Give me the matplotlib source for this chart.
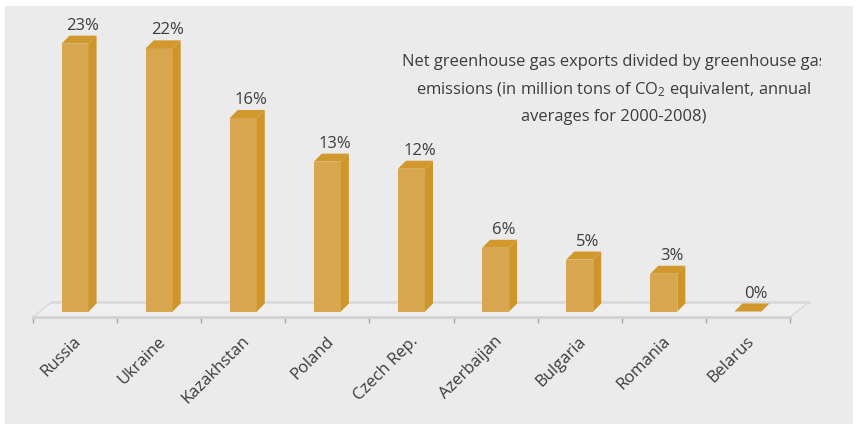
"""
Net greenhouse gas exports / emissions — pseudo-3D column chart.
Output: out.png (856x425)
"""
import numpy as np
import matplotlib
matplotlib.use("Agg")
import matplotlib.pyplot as plt
from matplotlib.patches import Polygon, Rectangle
from matplotlib.transforms import Bbox, TransformedBbox

plt.rcParams["font.family"] = ["Open Sans", "DejaVu Sans"]
plt.rcParams["mathtext.fontset"] = "custom"
plt.rcParams["mathtext.rm"] = "Open Sans"
plt.rcParams["mathtext.it"] = "Open Sans"

# ---- data ----
countries = ["Russia", "Ukraine", "Kazakhstan", "Poland", "Czech Rep.",
             "Azerbaijan", "Bulgaria", "Romania", "Belarus"]
share = [22.7, 22.3, 16.4, 12.7, 12.1, 5.4, 4.4, 3.2, 0.0]
share_labels = ["23%", "22%", "16%", "13%", "12%", "6%", "5%", "3%", "0%"]
title_lines = ["Net greenhouse gas exports divided by greenhouse gas",
               "emissions (in million tons of CO$_2$ equivalent, annual",
               "averages for 2000-2008)"]

FRONT, SIDE, TOP = "#D8A64E", "#CE962A", "#D0982D"
TXT = "#3c3c3c"
BG = "#EBEBEB"

W, H = 856, 425
fig = plt.figure(figsize=(W / 100, H / 100), dpi=100, facecolor="white")
fig.patches.append(Rectangle((5 / W, 1 - 424 / H), 848 / W, 418 / H,
                             transform=fig.transFigure, fc=BG, ec="none", zorder=-10))

# axes laid out in pixels: x ticks from 33 to 790, floor front at y=317
L, R, T, B = 33, 790, 20, 317
BASE = 311.5                     # pixel row of bar bottoms
PY = 11.8                        # pixels per %
PX = (R - L) / len(countries)    # pixels per category
ax = fig.add_axes([L / W, 1 - B / H, (R - L) / W, (B - T) / H])
ax.set_facecolor("none")
ax.set_xlim(-0.5, len(countries) - 0.5)
y0 = -(B - BASE) / PY
ax.set_ylim(y0, (BASE - T) / PY)
for s in ax.spines.values():
    s.set_visible(False)
ax.set_yticks([])

# floor (parallelogram)
fdx, fdy = 19 / PX, 15 / PY
xa, xb = -0.5, len(countries) - 0.5
ax.add_patch(Polygon([(xa, y0), (xb, y0), (xb + fdx, y0 + fdy), (xa + fdx, y0 + fdy)],
                     closed=True, fc="#EFEFEF", ec="none", clip_on=False, zorder=1))
ax.plot([xa, xb], [y0, y0], color="#D2D2D2", lw=2, clip_on=False, zorder=2)
ax.plot([xa + fdx, xb + fdx], [y0 + fdy] * 2, color="#D8D8D8", lw=1.8, clip_on=False, zorder=2)
ax.plot([xa, xa + fdx], [y0, y0 + fdy], color="#D8D8D8", lw=1, clip_on=False, zorder=2)
ax.plot([xb, xb + fdx], [y0, y0 + fdy], color="#D8D8D8", lw=1, clip_on=False, zorder=2)

ax.set_xticks(np.arange(-0.5, len(countries)))
ax.set_xticklabels([])
ax.tick_params(axis="x", length=4, width=1, color="#A8A8A8", direction="out")

# bars: front face + side + top
x = np.arange(len(countries))
w = 27 / PX
dx, dy = 8 / PX, 8 / PY
ax.bar(x, share, width=w, color=FRONT, zorder=3)
for xi, v, lab in zip(x, share, share_labels):
    x0, x1 = xi - w / 2, xi + w / 2
    ax.add_patch(Polygon([(x1, 0), (x1, v), (x1 + dx, v + dy), (x1 + dx, dy)],
                         closed=True, fc=SIDE, ec="none", zorder=3))
    ax.add_patch(Polygon([(x0, v), (x1, v), (x1 + dx, v + dy), (x0 + dx, v + dy)],
                         closed=True, fc=TOP, ec="none", zorder=3))
    ax.text(xi + 8 / PX, v + dy + 6 / PY, lab, ha="center", va="baseline",
            fontsize=12, color=TXT, zorder=4)

# category labels, rotated 45
for xi, name in zip(x, countries):
    ax.text(xi + 4 / PX, y0 - 22 / PY, name, rotation=45, rotation_mode="anchor",
            ha="right", va="center", fontsize=12, color=TXT, clip_on=False)

# title block, clipped at the right like the original
clip = TransformedBbox(Bbox([[0, 0], [821 / W, 1]]), fig.transFigure)
for i, line in enumerate(title_lines):
    t = fig.text(614 / W, 1 - (62 + 27.5 * i) / H, line, ha="center", va="center",
                 fontsize=11.9, color=TXT)
    t.set_clip_box(clip)
    t.set_clip_on(True)

fig.savefig("out.png", dpi=100, facecolor="white")
